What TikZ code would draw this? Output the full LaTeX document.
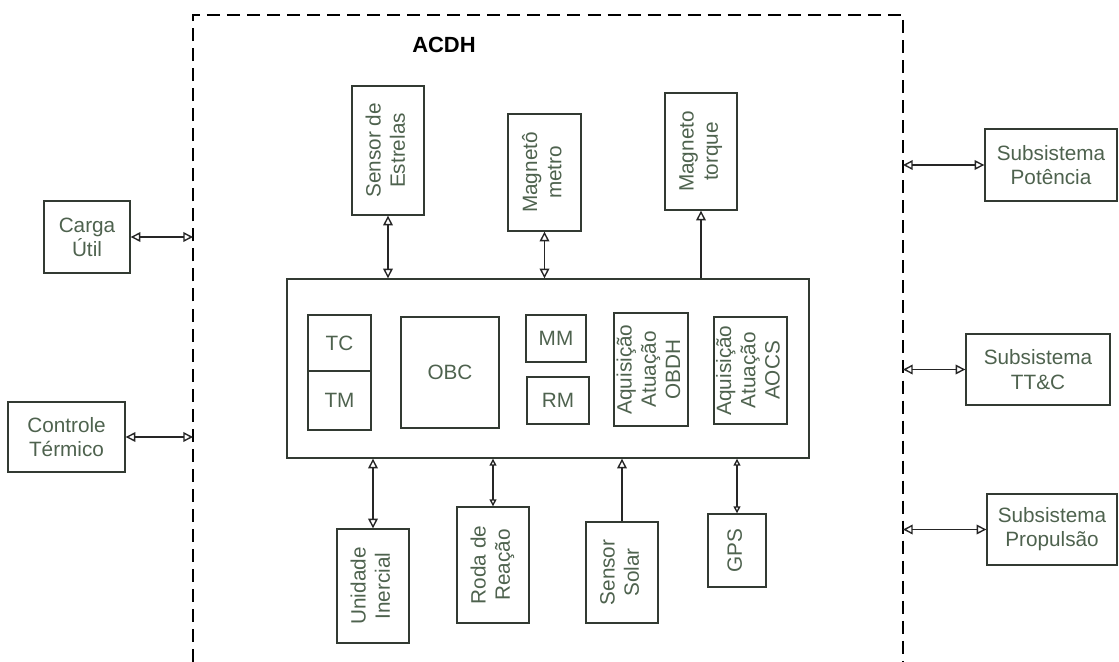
\documentclass[tikz,border=0pt]{standalone}
\usepackage{fontspec}
\setmainfont{Liberation Sans}
\usetikzlibrary{arrows.meta,positioning}

\definecolor{boxline}{RGB}{50,58,50}
\definecolor{boxtext}{RGB}{78,98,78}
\newcommand{\vlab}[1]{\rotatebox{90}{\begin{tabular}{@{}c@{}}#1\end{tabular}}}

\begin{document}
\begin{tikzpicture}[x=0.02cm,y=-0.02cm,
    blk/.style={draw=boxline,line width=0.8pt,inner sep=0pt,align=center,
      text=boxtext,font=\fontsize{11.8}{13.8}\selectfont},
    lnk/.style={line width=0.8pt,draw=black!85,
      {Triangle[open,length=5.5pt,width=5.5pt]}-{Triangle[open,length=5.5pt,width=5.5pt]}},
    lnks/.style={line width=0.8pt,draw=black!85,
      {Triangle[open,length=4pt,width=4pt]}-{Triangle[open,length=4pt,width=4pt]}},
    one/.style={line width=0.8pt,draw=black!85,-{Triangle[open,length=5.5pt,width=5.5pt]}},
    frame/.style={line width=1.1pt,dash pattern=on 7.4pt off 4pt}]
  \useasboundingbox (0,0) rectangle (1119,662);

  % frame of the ACDH
  \coordinate (fl) at (193,15);
  \coordinate (fr) at (903,15);
  \draw[frame] (193,662) -- (fl) -- (fr) -- (903,662);
  \node[font=\fontsize{12.5}{14}\selectfont\bfseries] (titulo) at (444,45) {ACDH};

  % outside
  \node[blk,minimum width=1.72cm,minimum height=1.44cm] (carga) at (87,237) {Carga\\Útil};
  \node[blk,minimum width=2.34cm,minimum height=1.40cm] (termico) at (66.5,437) {Controle\\Térmico};
  \node[blk,minimum width=2.64cm,minimum height=1.44cm] (potencia) at (1051,165) {Subsistema\\Potência};
  \node[blk,minimum width=2.88cm,minimum height=1.42cm] (ttc) at (1038,369.5) {Subsistema\\TT\&C};
  \node[blk,minimum width=2.60cm,minimum height=1.42cm] (propulsao) at (1052,529.5) {Subsistema\\Propulsão};

  % sensors and actuators
  \node[blk,minimum width=1.44cm,minimum height=2.58cm] (estrelas) at (388,150.5) {\vlab{Sensor de\\Estrelas}};
  \node[blk,minimum width=1.46cm,minimum height=2.34cm] (magneto) at (544.5,172.5) {\vlab{Magnetô\\metro}};
  \node[blk,minimum width=1.44cm,minimum height=2.34cm] (torque) at (701,151.5) {\vlab{Magneto\\torque}};
  \node[blk,minimum width=1.44cm,minimum height=2.28cm] (inercial) at (373,586) {\vlab{Unidade\\Inercial}};
  \node[blk,minimum width=1.44cm,minimum height=2.32cm] (roda) at (493,565) {\vlab{Roda de\\Reação}};
  \node[blk,minimum width=1.44cm,minimum height=2.02cm] (solar) at (622,572.5) {\vlab{Sensor\\Solar}};
  \node[blk,minimum width=1.16cm,minimum height=1.46cm] (gps) at (737,550.5) {\vlab{GPS}};

  % computer
  \node[blk,minimum width=10.44cm,minimum height=3.58cm] (acdh) at (548,368.5) {};
  \node[blk,minimum width=1.26cm,minimum height=1.12cm] (tc) at (339.5,343) {TC};
  \node[blk,minimum width=1.26cm,minimum height=1.18cm] (tm) at (339.5,400.5) {TM};
  \node[blk,minimum width=1.96cm,minimum height=2.22cm] (obc) at (450,372.5) {OBC};
  \node[blk,minimum width=1.20cm,minimum height=0.94cm] (mm) at (556,338.5) {MM};
  \node[blk,minimum width=1.24cm,minimum height=0.94cm] (rm) at (558,400.5) {RM};
  \node[blk,minimum width=1.48cm,minimum height=2.26cm] (obdh) at (651,369.5) {\vlab{Aquisição\\Atuação\\OBDH}};
  \node[blk,minimum width=1.46cm,minimum height=2.14cm] (aocs) at (750.5,370.5) {\vlab{Aquisição\\Atuação\\AOCS}};

  % links
  \draw[lnk] (carga.east) -- (carga.east -| fl);
  \draw[lnk] (termico.east) -- (termico.east -| fl);
  \draw[lnk] (potencia.west -| fr) -- (potencia.west);
  \draw[lnk] (ttc.west -| fr) -- (ttc.west);
  \draw[lnk] (propulsao.west -| fr) -- (propulsao.west);
  \draw[lnk] (estrelas.south) -- (estrelas.south |- acdh.north);
  \draw[lnk] (magneto.south) -- (magneto.south |- acdh.north);
  \draw[one] (torque.south |- acdh.north) -- (torque.south);
  \draw[lnk] (inercial.north |- acdh.south) -- (inercial.north);
  \draw[lnks] (roda.north |- acdh.south) -- (roda.north);
  \draw[one] (solar.north) -- (solar.north |- acdh.south);
  \draw[lnks] (gps.north |- acdh.south) -- (gps.north);
\end{tikzpicture}
\end{document}
